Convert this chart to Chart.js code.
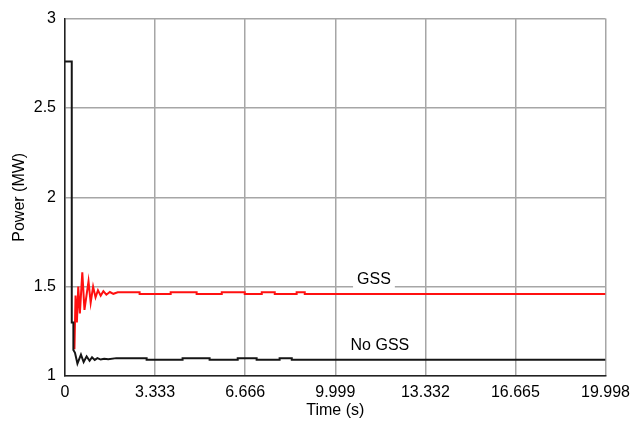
<!DOCTYPE html>
<html>
<head>
<meta charset="utf-8">
<script src="https://cdn.jsdelivr.net/npm/chart.js@4/dist/chart.umd.min.js"></script>
<style>
  html, body { margin: 0; padding: 0; background: #ffffff; }
  canvas { display: block; }
</style>
</head>
<body>
<canvas id="c" width="637" height="432"></canvas>
<script>
// ---- data ----
const xTickValues = [0, 3.333, 6.666, 9.999, 13.332, 16.665, 19.998];
const xTickLabels = ['0', '3.333', '6.666', '9.999', '13.332', '16.665', '19.998'];
const yTickValues = [1, 1.5, 2, 2.5, 3];
const yTickLabels = ['1', '1.5', '2', '2.5', '3'];

const noGssTime = [0, 0.25, 0.25, 0.31, 0.31, 0.37, 0.46, 0.59, 0.69, 0.80, 0.91, 1.00, 1.10, 1.20, 1.32, 1.45, 1.60, 1.90,
  3.02, 3.02, 4.35, 4.35, 5.35, 5.35, 6.39, 6.39, 7.09, 7.09, 7.94, 7.94, 8.39, 8.39, 19.998];
const noGssPower = [2.76, 2.76, 1.30, 1.30, 1.145, 1.13, 1.07, 1.12, 1.078, 1.11, 1.085, 1.105, 1.09, 1.10, 1.092, 1.097, 1.094, 1.10,
  1.10, 1.091, 1.091, 1.10, 1.10, 1.091, 1.091, 1.10, 1.10, 1.091, 1.091, 1.10, 1.10, 1.091, 1.091];

const gssTime = [0.35, 0.39, 0.44, 0.49, 0.55, 0.64, 0.72, 0.87, 0.95, 1.04, 1.13, 1.22, 1.32, 1.42, 1.53, 1.66, 1.79, 1.95,
  2.76, 2.76, 3.91, 3.91, 4.87, 4.87, 5.80, 5.80, 6.65, 6.65, 7.28, 7.28, 7.76, 7.76, 8.57, 8.57, 8.87, 8.87, 19.998];
const gssPower = [1.15, 1.45, 1.30, 1.50, 1.35, 1.58, 1.37, 1.53, 1.41, 1.50, 1.44, 1.48, 1.45, 1.475, 1.455, 1.47, 1.46, 1.468,
  1.468, 1.459, 1.459, 1.468, 1.468, 1.459, 1.459, 1.468, 1.468, 1.459, 1.459, 1.468, 1.468, 1.459, 1.459, 1.468, 1.468, 1.459, 1.459];

const seriesLabels = ['No GSS', 'GSS'];
// annotation anchors in data units
const annotations = [
  { text: 'GSS', t: 11.43, v: 1.542, box: true },
  { text: 'No GSS', t: 11.65, v: 1.172, box: false }
];

const FONT = "'Liberation Sans', Arial, sans-serif";
const zip = (xs, ys) => xs.map((x, i) => ({ x: x, y: ys[i] }));

const labelPlugin = {
  id: 'seriesLabels',
  afterDatasetsDraw(chart) {
    const ctx = chart.ctx;
    const xs = chart.scales.x, ys = chart.scales.y;
    ctx.save();
    ctx.font = '16px ' + FONT;
    ctx.textAlign = 'center';
    ctx.textBaseline = 'middle';
    annotations.forEach(a => {
      const px = xs.getPixelForValue(a.t);
      const py = ys.getPixelForValue(a.v);
      const w = ctx.measureText(a.text).width;
      if (a.box) {
        ctx.fillStyle = '#ffffff';
        ctx.fillRect(px - w / 2 - 4, py - 10, w + 8, 19);
      }
      ctx.fillStyle = '#000000';
      ctx.fillText(a.text, px, py);
    });
    ctx.restore();
  }
};

const bgPlugin = {
  id: 'bg',
  beforeDraw(chart) {
    const ctx = chart.ctx;
    ctx.save();
    ctx.fillStyle = '#ffffff';
    ctx.fillRect(0, 0, chart.width, chart.height);
    ctx.restore();
  }
};

new Chart(document.getElementById('c'), {
  type: 'line',
  data: {
    datasets: [
      {
        label: seriesLabels[0],
        data: zip(noGssTime, noGssPower),
        borderColor: '#151515',
        borderWidth: 2,
        pointRadius: 0,
        tension: 0,
        fill: false
      },
      {
        label: seriesLabels[1],
        data: zip(gssTime, gssPower),
        borderColor: '#ff1010',
        borderWidth: 2,
        pointRadius: 0,
        tension: 0,
        fill: false
      }
    ]
  },
  options: {
    responsive: false,
    animation: false,
    layout: { padding: { left: 0, right: 31, top: 15, bottom: 0 } },
    plugins: {
      legend: { display: false },
      tooltip: { enabled: false }
    },
    scales: {
      x: {
        type: 'linear',
        min: 0,
        max: 19.998,
        afterBuildTicks: s => { s.ticks = xTickValues.map(v => ({ value: v })); },
        afterFit: s => { s.height = 56; },
        ticks: {
          autoSkip: false,
          maxRotation: 0,
          padding: 7,
          color: '#000000',
          font: { family: FONT, size: 16 },
          callback: (v, i) => xTickLabels[i]
        },
        grid: { color: '#a6a6a6', lineWidth: 1.5, drawTicks: false },
        border: { color: '#222222', width: 1.5 },
        title: {
          display: true,
          text: 'Time (s)',
          color: '#000000',
          font: { family: FONT, size: 16 },
          padding: { top: 0, bottom: 12 }
        }
      },
      y: {
        type: 'linear',
        min: 1,
        max: 3,
        afterBuildTicks: s => { s.ticks = yTickValues.map(v => ({ value: v })); },
        afterFit: s => { s.width = 65; },
        ticks: {
          padding: 9,
          color: '#000000',
          font: { family: FONT, size: 16 },
          callback: (v, i) => yTickLabels[i]
        },
        grid: { color: '#a6a6a6', lineWidth: 1.5, drawTicks: false },
        border: { color: '#222222', width: 1.5 },
        title: {
          display: true,
          text: 'Power (MW)',
          color: '#000000',
          font: { family: FONT, size: 16 },
          padding: { top: 10, bottom: 0 }
        }
      }
    }
  },
  plugins: [bgPlugin, labelPlugin]
});
</script>
</body>
</html>
